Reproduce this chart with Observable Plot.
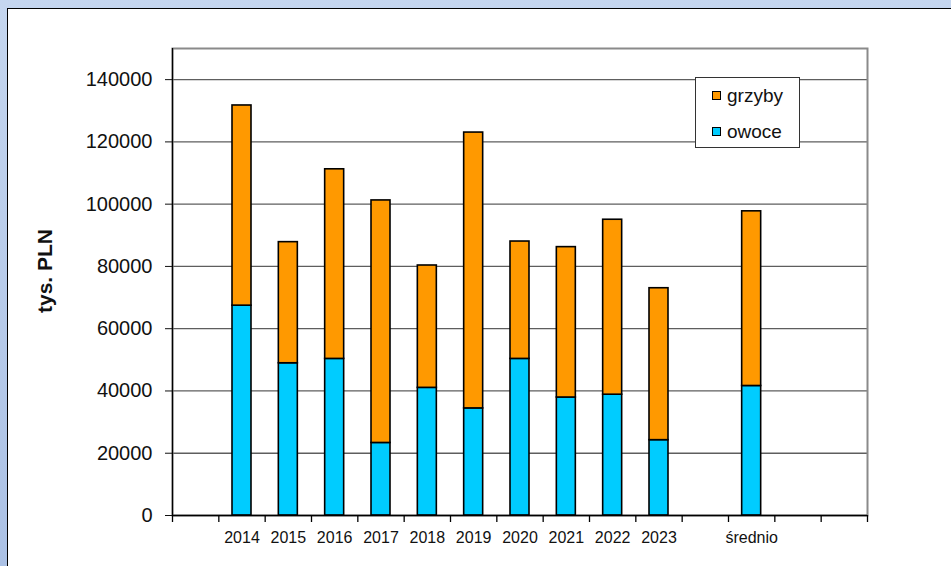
<!DOCTYPE html>
<html>
<head>
<meta charset="utf-8">
<script src="https://cdn.jsdelivr.net/npm/d3@7"></script>
<script src="https://cdn.jsdelivr.net/npm/@observablehq/plot@0.6"></script>
<style>
  html, body { margin: 0; padding: 0; }
  body {
    width: 951px; height: 566px; position: relative; overflow: hidden;
    background: linear-gradient(to bottom, #c5d6ef, #abc1e5);
    font-family: "Liberation Sans", Arial, sans-serif;
  }
  #panel {
    position: absolute; left: 7px; top: 8px; right: 0; bottom: 0;
    background: #fff; border-left: 1px solid #000; border-top: 1px solid #000;
  }
  #chart { position: absolute; left: 0; top: 0; }
  #legend {
    position: absolute; left: 695px; top: 77px; width: 105px; height: 71px;
    background: #fff; border: 1px solid #333; box-sizing: border-box;
  }
  .item { position: absolute; font-size: 19px; color: #111; line-height: 1; }
  .sw { position: absolute; width: 7px; height: 7px; border: 1px solid #000; }
</style>
</head>
<body>
<div id="panel"></div>
<div id="chart"></div>
<div id="legend"></div>
<script>
// Data
const years = ["2014", "2015", "2016", "2017", "2018", "2019", "2020", "2021", "2022", "2023", "średnio"];
const owoce  = [67400, 48900, 50300, 23300, 41000, 34400, 50300, 37900, 38800, 24200, 41600];
const grzyby = [64300, 38900, 60900, 77900, 39300, 88600, 37700, 48300, 56200, 48800, 56100];
const slots = [" ", "2014", "2015", "2016", "2017", "2018", "2019", "2020", "2021", "2022", "2023", "  ", "średnio", "   ", "    "];
const yTicks = [0, 20000, 40000, 60000, 80000, 100000, 120000, 140000];
const seriesNames = ["grzyby", "owoce"];
const seriesColors = ["#ff9900", "#00ccff"];

const rows = [];
years.forEach((yr, i) => {
  rows.push({cat: yr, series: "owoce", value: owoce[i]});
  rows.push({cat: yr, series: "grzyby", value: grzyby[i]});
});

const W = 951, H = 566, ML = 172, MR = 84, MT = 48, MB = 51;
const step = (W - ML - MR) / slots.length;

const chart = Plot.plot({
  width: W, height: H,
  marginLeft: ML, marginRight: MR, marginTop: MT, marginBottom: MB,
  style: {background: "transparent", fontFamily: "'Liberation Sans', Arial, sans-serif", overflow: "visible"},
  x: {type: "band", domain: slots, paddingInner: 0.59, paddingOuter: 0.295, round: false, axis: null},
  y: {domain: [0, 150000], axis: null},
  color: {domain: seriesNames, range: seriesColors},
  marks: [
    Plot.ruleY(yTicks.filter(d => d > 0), {y: d => d, stroke: "#5e5e5e", strokeWidth: 1.3}),
    Plot.frame({stroke: "#8a8a8a", strokeWidth: 2}),
    Plot.barY(rows, Plot.stackY({
      x: "cat", y: "value", fill: "series",
      order: ["owoce", "grzyby"],
      stroke: "#000", strokeWidth: 1.6
    })),
    // y axis line
    Plot.ruleX([slots[0]], {x: d => d, dx: -step / 2, stroke: "#000", strokeWidth: 1.3}),
    // x axis line
    Plot.ruleY([0], {y: d => d, stroke: "#000", strokeWidth: 1.3}),
    // x boundary ticks
    Plot.ruleX(slots, {x: d => d, dx: -step / 2, y1: 0, y2: 0, insetBottom: -7, stroke: "#000", strokeWidth: 1.3}),
    Plot.ruleX([slots[slots.length - 1]], {x: d => d, dx: step / 2, y1: 0, y2: 0, insetBottom: -7, stroke: "#000", strokeWidth: 1.3}),
    Plot.axisY({ticks: yTicks, tickSize: 7, tickPadding: 13, fontSize: 20, color: "#111", label: null, tickFormat: d => String(d)}),
    Plot.axisX({tickSize: 0, tickPadding: 16, fontSize: 16, color: "#111", label: null, tickFormat: d => d.trim()}),
    Plot.text(["tys. PLN"], {frameAnchor: "left", text: d => d, dx: -127, dy: -11, rotate: -90, textAnchor: "middle", lineAnchor: "middle", fontSize: 21, fontWeight: "bold", fill: "#111"})
  ]
});
document.getElementById("chart").appendChild(chart);

const legend = document.getElementById("legend");
seriesNames.forEach((name, i) => {
  const it = document.createElement("div");
  it.className = "item";
  it.style.top = (i === 0 ? 8 : 44) + "px";
  it.style.left = "31px";
  it.textContent = name;
  const sw = document.createElement("div");
  sw.className = "sw";
  sw.style.background = seriesColors[i];
  sw.style.left = "-15px";
  sw.style.top = "5px";
  it.appendChild(sw);
  legend.appendChild(it);
});
</script>
</body>
</html>
